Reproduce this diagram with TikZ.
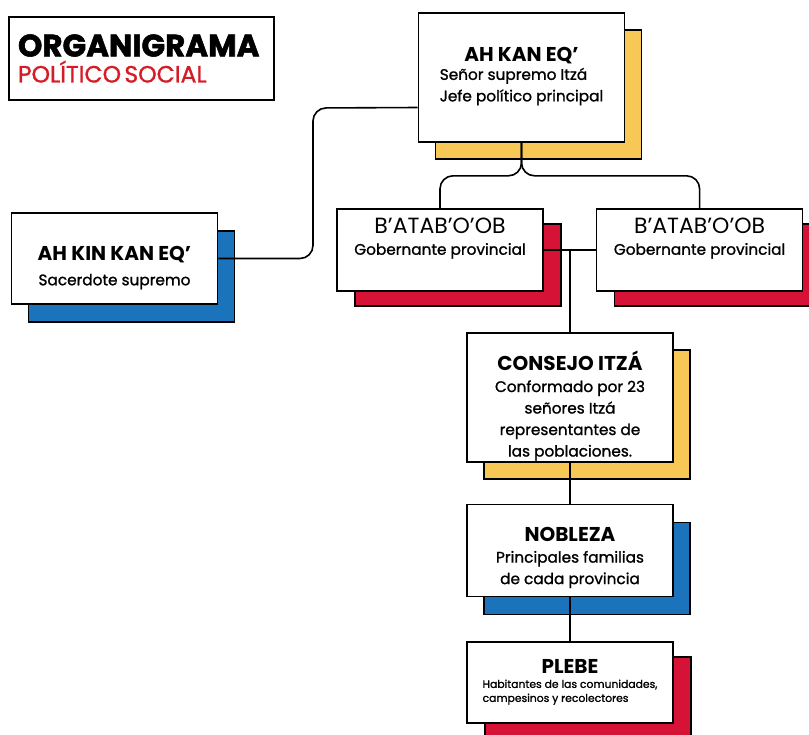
\documentclass[tikz,border=0pt]{standalone}
\usepackage{fontspec}
\setmainfont{Poppins}
\newfontfamily\medio{Poppins}[FakeBold=1.2]
\newfontfamily\grueso{Poppins}[FakeBold=1.8]
\usepackage{tikz}
\usetikzlibrary{
  positioning,
  shadows
}
\newcommand{\cargo}[2][0pt]{{\fontsize{20}{24}\selectfont\normalfont\bfseries\rule{0pt}{#1}#2}}
\definecolor{itzayellow}{RGB}{248,200,86}
\definecolor{itzablue}{RGB}{27,116,187}
\definecolor{itzared}{RGB}{215,18,55}
\definecolor{titlered}{RGB}{213,28,38}
\tikzset{
  orgbox/.style={
    draw=black,
    line width=1.6pt,
    fill=white,
    minimum width=206pt,
    align=center,
    inner xsep=4pt,
    inner ysep=0pt,
    font=\fontsize{15.3}{21.5}\selectfont\medio
  },
  yellowbox/.style={orgbox,drop shadow={shadow xshift=17pt,shadow yshift=-17pt,fill=itzayellow,draw=black,opacity=1}},
  bluebox/.style={orgbox,drop shadow={shadow xshift=17pt,shadow yshift=-18pt,fill=itzablue,draw=black,opacity=1}},
  redbox/.style={orgbox,drop shadow={shadow xshift=18pt,shadow yshift=-15pt,fill=itzared,draw=black,opacity=1}},
  titlebox/.style={
    draw=black,
    line width=1.4pt,
    minimum width=265pt,
    minimum height=83pt,
    text width=247pt,
    align=left
  },
  conn/.style={draw=black,line width=1.6pt,rounded corners=13pt}
}

\begin{document}
\begin{tikzpicture}[x=1pt,y=-1pt]
  \useasboundingbox (0,0) rectangle (809,734);
  \node[titlebox] (titulo) at (141.5,58.5) {
    {\fontsize{31}{31}\selectfont\grueso\bfseries ORGANIGRAMA}\\[3pt]
    {\fontsize{23.5}{27}\selectfont\medio\color{titlered}POLÍTICO SOCIAL}
  };

  \node[yellowbox,minimum height=129pt] (kan) at (521.5,77.5) {
    \cargo{AH KAN EQ’}\\
    \begin{tabular}{@{}l@{}}Señor supremo Itzá\\Jefe político principal\end{tabular}
  };
  \node[bluebox,minimum height=91pt] (kin) at (114.5,258.5) {
    \cargo[33pt]{AH KIN KAN EQ’}\\[3pt] Sacerdote supremo
  };
  \node[redbox,minimum height=82pt] (bl) at (440,250) {
    {\fontsize{22}{24}\selectfont\normalfont B’ATAB’O’OB}\\ Gobernante provincial\\[6pt]
  };
  \node[redbox,minimum height=82pt,right=52pt of bl] (br) {
    {\fontsize{22}{24}\selectfont\normalfont B’ATAB’O’OB}\\ Gobernante provincial\\[6pt]
  };
  \node[yellowbox,minimum height=129pt] (consejo) at (570,397.5) {
    \cargo[36pt]{CONSEJO ITZÁ}\\ Conformado por 23\\ señores Itzá\\
    representantes de\\ las poblaciones.
  };
  \node[bluebox,minimum height=92pt,below=41pt of consejo] (nobleza) {
    \cargo[28pt]{NOBLEZA}\\ Principales familias\\ de cada provincia
  };
  \node[redbox,minimum height=81pt,below=44pt of nobleza] (plebe) {
    \cargo{PLEBE}\\ {\fontsize{10.8}{14}\selectfont
    \begin{tabular}{@{}l@{}}Habitantes de las comunidades,\\campesinos y recolectores\end{tabular}}
  };

  \coordinate (kinbend) at (313,108);
  \draw[conn] (kin.east) -| (kinbend) -- ([yshift=-30pt]kan.west);
  \draw[conn] (kan.south) -- ++(0,33) -| (bl.north);
  \draw[conn] (kan.south) -- ++(0,33) -| (br.north);
  \draw[conn] (bl.east) -- (br.west);
  \draw[conn] (consejo.north) -- (consejo.north |- bl.east);
  \draw[conn] (consejo.south) -- (nobleza.north);
  \draw[conn] (nobleza.south) -- (plebe.north);
\end{tikzpicture}
\end{document}
